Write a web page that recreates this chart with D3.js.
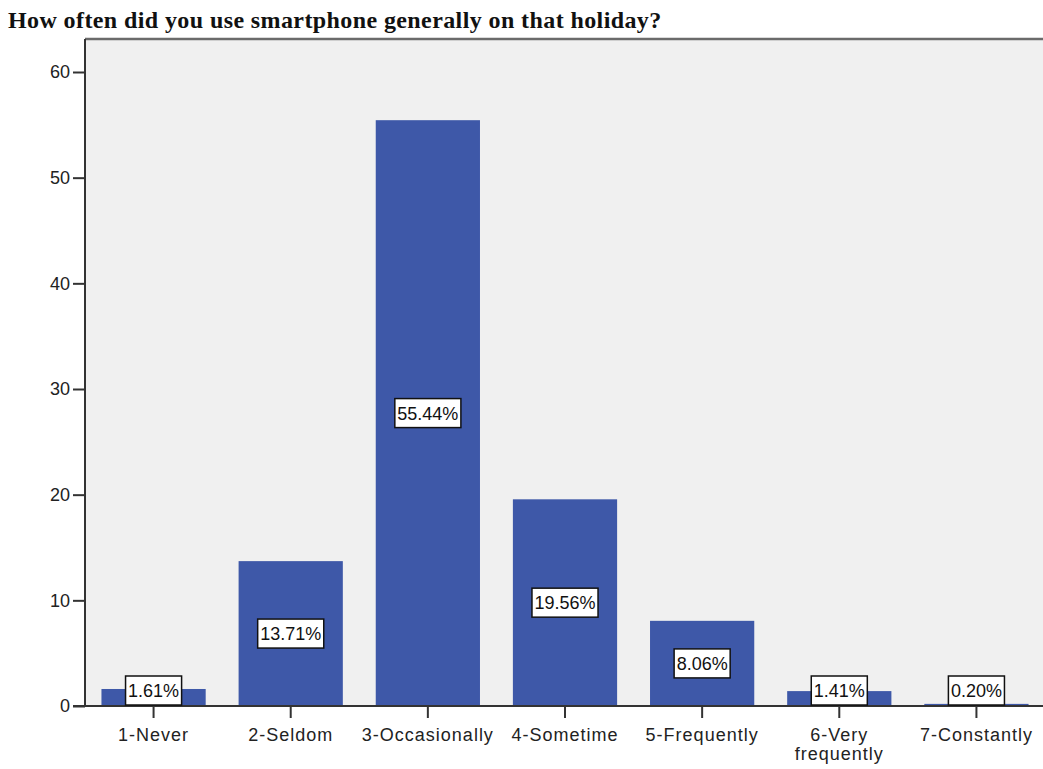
<!DOCTYPE html>
<html>
<head>
<meta charset="utf-8">
<script src="https://cdn.jsdelivr.net/npm/d3@7"></script>
<style>
  body { margin: 0; background: #fff; }
  svg { display: block; }
</style>
</head>
<body>
<div id="chart"></div>
<script>
// Données
const categories = ['1-Never', '2-Seldom', '3-Occasionally', '4-Sometime', '5-Frequently', '6-Very frequently', '7-Constantly'];
const percents = [1.61, 13.71, 55.44, 19.56, 8.06, 1.41, 0.20];
const yTicks = [0, 10, 20, 30, 40, 50, 60];
const title = 'How often did you use smartphone generally on that holiday?';

const width = 1043;
const height = 769;
const margin = { top: 39, right: -2, bottom: 63, left: 85 };
const sans = 'Arial, "Liberation Sans", sans-serif';

const svg = d3.select('#chart')
    .append('svg')
    .attr('width', width)
    .attr('height', height);

const x = d3.scaleBand()
    .domain(categories)
    .range([margin.left, width - margin.right])
    .paddingInner(0.24)
    .paddingOuter(0.12);

const y = d3.scaleLinear()
    .domain([0, 60])
    .range([height - margin.bottom, 72]);

// Fond du graphique
svg.append('rect')
    .attr('x', margin.left)
    .attr('y', margin.top)
    .attr('width', width - margin.left)
    .attr('height', y(0) - margin.top)
    .attr('fill', '#f0f0f0');

svg.append('line')
    .attr('x1', margin.left)
    .attr('x2', width)
    .attr('y1', margin.top)
    .attr('y2', margin.top)
    .attr('stroke', '#6b6b6b')
    .attr('stroke-width', 2.5);

// Titre
svg.append('text')
    .attr('x', 8)
    .attr('y', 28)
    .style('font-family', '"Liberation Serif", "Times New Roman", serif')
    .style('font-weight', 'bold')
    .style('font-size', '24px')
    .style('letter-spacing', '0.4px')
    .style('fill', '#111')
    .text(title);

// Barres
svg.selectAll('.bar')
    .data(categories)
    .enter()
    .append('rect')
    .attr('class', 'bar')
    .attr('x', d => x(d))
    .attr('width', x.bandwidth())
    .attr('y', (d, i) => y(percents[i]))
    .attr('height', (d, i) => y(0) - y(percents[i]))
    .attr('fill', '#3e58a8');

// Axe Y
const yAxis = svg.append('g')
    .attr('transform', `translate(${margin.left},0)`)
    .call(d3.axisLeft(y).tickValues(yTicks).tickSize(12).tickPadding(3).tickSizeOuter(0));

// Axe X
const xAxis = svg.append('g')
    .attr('transform', `translate(0,${y(0)})`)
    .call(d3.axisBottom(x).tickSize(12).tickSizeOuter(0).tickFormat(''));

[yAxis, xAxis].forEach(ax => {
    ax.select('.domain').attr('stroke', '#333').attr('stroke-width', 2);
    ax.selectAll('.tick line').attr('stroke', '#333').attr('stroke-width', 2);
    ax.selectAll('text')
        .style('font-family', sans)
        .style('font-size', '18px')
        .style('fill', '#222');
});
yAxis.select('.domain').attr('d', `M0,${margin.top}V${y(0)}`);
xAxis.select('.domain').attr('d', `M${margin.left - 12},0H${width}`);

// Libellés des catégories (retour à la ligne pour "6-Very frequently")
const catLabels = svg.append('g')
    .selectAll('text')
    .data(categories)
    .enter()
    .append('text')
    .attr('x', d => x(d) + x.bandwidth() / 2)
    .attr('y', y(0) + 35)
    .style('text-anchor', 'middle')
    .style('font-family', sans)
    .style('font-size', '18px')
    .style('letter-spacing', '1px')
    .style('fill', '#222');

catLabels.each(function(d) {
    const parts = d === '6-Very frequently' ? ['6-Very', 'frequently'] : [d];
    const t = d3.select(this);
    parts.forEach((p, k) => {
        t.append('tspan')
            .attr('x', x(d) + x.bandwidth() / 2)
            .attr('dy', k === 0 ? 0 : 19)
            .text(p);
    });
});

// Étiquettes de pourcentage
const boxH = 29;
const labels = svg.append('g')
    .selectAll('g')
    .data(categories)
    .enter()
    .append('g')
    .attr('transform', (d, i) => {
        const mid = (y(0) + y(percents[i])) / 2;
        const cy = Math.min(mid, y(0) - boxH / 2 - 1);
        return `translate(${x(d) + x.bandwidth() / 2},${cy})`;
    });

labels.append('text')
    .attr('text-anchor', 'middle')
    .attr('dy', '0.36em')
    .style('font-family', sans)
    .style('font-size', '18px')
    .style('fill', '#111')
    .text((d, i) => percents[i].toFixed(2) + '%');

labels.each(function() {
    const g = d3.select(this);
    const w = g.select('text').node().getComputedTextLength() + 5;
    g.insert('rect', 'text')
        .attr('x', -w / 2)
        .attr('y', -boxH / 2)
        .attr('width', w)
        .attr('height', boxH)
        .attr('fill', 'white')
        .attr('stroke', '#111')
        .attr('stroke-width', 1.5);
});
</script>
</body>
</html>
